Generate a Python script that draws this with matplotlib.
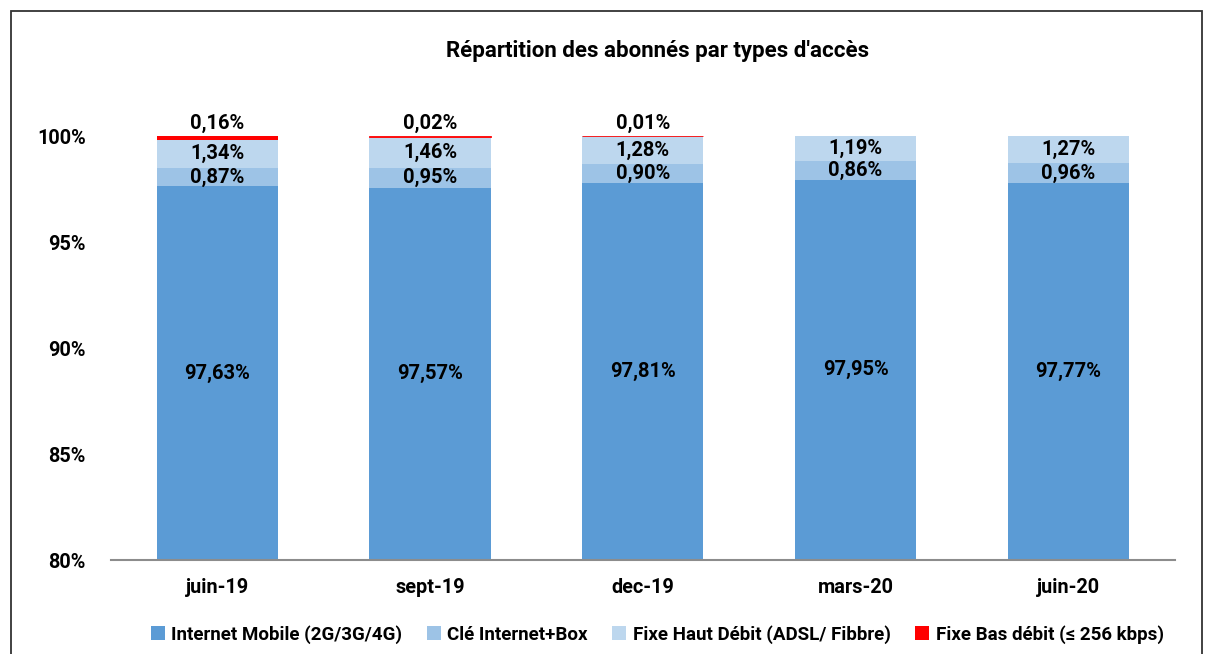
import matplotlib.pyplot as plt
import numpy as np
from matplotlib.patches import Rectangle

plt.rcParams['font.family'] = ['Roboto', 'DejaVu Sans']
plt.rcParams['font.weight'] = 'bold'

# data
periods = ['juin-19', 'sept-19', 'dec-19', 'mars-20', 'juin-20']
mobile = [97.63, 97.57, 97.81, 97.95, 97.77]
cle = [0.87, 0.95, 0.90, 0.86, 0.96]
fixe_haut = [1.34, 1.46, 1.28, 1.19, 1.27]
fixe_bas = [0.16, 0.02, 0.01, 0.0, 0.0]
labels = ['Internet Mobile (2G/3G/4G)', 'Clé Internet+Box',
          'Fixe Haut Débit (ADSL/ Fibbre)', 'Fixe Bas débit (≤ 256 kbps)']
colors = ['#5B9BD5', '#9DC3E6', '#BDD7EE', '#FF0000']

def fmt(v):
    return f'{v:.2f}%'.replace('.', ',')

fig = plt.figure(figsize=(12.06, 6.54), dpi=100)
ax = fig.add_axes([0.092, 0.1437, 0.882, 0.648])

x = np.arange(len(periods))
w = 0.57
bottom = np.zeros(len(periods))
series = [mobile, cle, fixe_haut, fixe_bas]
for vals, col, lab in zip(series, colors, labels):
    vals = np.array(vals)
    if col == '#FF0000':
        # tiny shares still show as a hairline, like in the source chart
        lw = [0.6 if 0 < v < 0.05 else 0 for v in vals]
    else:
        lw = 0
    ax.bar(x, vals, w, bottom=bottom, color=col, label=lab,
           edgecolor=col, linewidth=lw)
    bottom = bottom + vals

# value labels
fs = 14.5
for i in range(len(periods)):
    ax.text(x[i], (80 + mobile[i]) / 2, fmt(mobile[i]), ha='center', va='center',
            fontsize=fs, fontweight='bold')
    b = mobile[i]
    ax.text(x[i], b + cle[i] / 2, fmt(cle[i]), ha='center', va='center',
            fontsize=fs, fontweight='bold')
    b += cle[i]
    ax.text(x[i], b + fixe_haut[i] / 2, fmt(fixe_haut[i]), ha='center', va='center',
            fontsize=fs, fontweight='bold')
    b += fixe_haut[i]
    if fixe_bas[i] > 0:
        ax.text(x[i], b + fixe_bas[i] + 0.15, fmt(fixe_bas[i]), ha='center', va='bottom',
                fontsize=fs, fontweight='bold')

ax.set_xlim(-0.5, len(periods) - 0.5)
ax.set_ylim(80, 100)
ax.set_yticks([80, 85, 90, 95, 100])
ax.set_yticklabels(['80%', '85%', '90%', '95%', '100%'])
ax.set_xticks(x)
ax.set_xticklabels(periods)
ax.tick_params(axis='both', length=0, labelsize=14.3)
ax.tick_params(axis='y', pad=18)
ax.tick_params(axis='x', pad=13)
for s in ['top', 'right', 'left']:
    ax.spines[s].set_visible(False)
ax.spines['bottom'].set_color('#8c8c8c')
ax.spines['bottom'].set_linewidth(1.5)

fig.text(0.545, 0.922, "Répartition des abonnés par types d'accès", ha='center',
         va='center', fontsize=16, fontweight='bold')

fig.legend(loc='center', bbox_to_anchor=(0.545, 0.03), ncol=4, frameon=False,
           fontsize=13.5, handlelength=0.75, handleheight=0.75, handletextpad=0.35,
           columnspacing=1.3)

# outer frame
fig.patches.append(Rectangle((0.009, -0.05), 0.988, 1.033, transform=fig.transFigure,
                             fill=False, edgecolor='#333333', linewidth=1.3))

fig.savefig('out.png', dpi=100)
